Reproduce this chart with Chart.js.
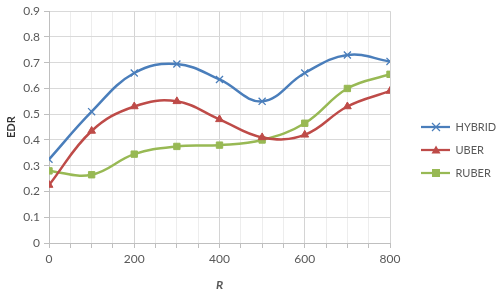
<!DOCTYPE html>
<html>
<head>
<meta charset="utf-8">
<script src="https://cdn.jsdelivr.net/npm/chart.js@4.4.1/dist/chart.umd.min.js"></script>
<style>
html,body{margin:0;padding:0;background:#fff;}
#wrap{width:498px;height:292px;position:relative;}
</style>
</head>
<body>
<div id="wrap"><canvas id="c" width="498" height="292"></canvas></div>
<script>
const categories = [0, 100, 200, 300, 400, 500, 600, 700, 800];
const hybrid = [0.325, 0.51, 0.66, 0.695, 0.635, 0.55, 0.66, 0.73, 0.705];
const uber   = [0.225, 0.435, 0.53, 0.55, 0.48, 0.41, 0.42, 0.53, 0.59];
const ruber  = [0.28, 0.265, 0.345, 0.375, 0.38, 0.40, 0.465, 0.60, 0.655];
const seriesNames = ['HYBRID', 'UBER', 'RUBER'];
const xTickLabels = [0, 200, 400, 600, 800];
const yTickLabels = [0, 0.1, 0.2, 0.3, 0.4, 0.5, 0.6, 0.7, 0.8, 0.9];

const colors = ['#4A7EBB', '#BE4B48', '#98B954'];
const styles = ['crossRot', 'triangle', 'rect'];

function legendIcon(color, style) {
  const c = document.createElement('canvas');
  c.width = 48; c.height = 12;
  const g = c.getContext('2d');
  g.strokeStyle = color; g.lineWidth = 2.25;
  g.beginPath(); g.moveTo(19, 6); g.lineTo(48, 6); g.stroke();
  g.fillStyle = color;
  const cx = 34, cy = 6;
  if (style === 'crossRot') {
    g.lineWidth = 1.2;
    g.beginPath(); g.moveTo(cx-4, cy-4); g.lineTo(cx+4, cy+4);
    g.moveTo(cx-4, cy+4); g.lineTo(cx+4, cy-4); g.stroke();
  } else if (style === 'triangle') {
    g.beginPath(); g.moveTo(cx, cy-4.5); g.lineTo(cx+4.5, cy+3.5); g.lineTo(cx-4.5, cy+3.5); g.closePath(); g.fill();
  } else {
    g.fillRect(cx-4, cy-4, 8, 8);
  }
  return c;
}
const icons = colors.map((c, i) => legendIcon(c, styles[i]));

const allSeries = [hybrid, uber, ruber];
const datasets = allSeries.map((vals, i) => ({
  label: seriesNames[i],
  data: categories.map((x, j) => ({x: x, y: vals[j]})),
  borderColor: colors[i],
  backgroundColor: colors[i],
  borderWidth: 2.5,
  tension: 0.4,
  pointStyle: styles[i],
  pointRadius: styles[i] === 'crossRot' ? 5 : 4.5,
  pointBorderWidth: styles[i] === 'crossRot' ? 1.3 : 1,
  pointBackgroundColor: colors[i],
  pointBorderColor: colors[i],
  fill: false
}));

const fontFam = 'Lato, "Open Sans", "Liberation Sans", sans-serif';

new Chart(document.getElementById('c'), {
  type: 'line',
  data: { datasets: datasets },
  options: {
    responsive: false,
    animation: false,
    devicePixelRatio: 1,
    layout: { padding: { top: 8, right: 0, left: 0, bottom: 0 } },
    plugins: {
      tooltip: { enabled: false },
      legend: {
        position: 'right',
        align: 'center',
        labels: {
          usePointStyle: true,
          pointStyleWidth: 48,
          boxHeight: 12,
          padding: 12,
          color: '#595959',
          font: { family: fontFam, size: 11 },
          generateLabels: (chart) => seriesNames.map((n, i) => ({
            text: n, fillStyle: colors[i], strokeStyle: colors[i], lineWidth: 0,
            pointStyle: icons[i], datasetIndex: i, hidden: false, fontColor: '#595959'
          }))
        }
      }
    },
    scales: {
      x: {
        type: 'linear',
        min: 0, max: 800,
        afterFit: (s) => { s.height = 49; },
        afterBuildTicks: (s) => {
          const t = [];
          for (let v = 0; v <= 800; v += 50) t.push({value: v});
          s.ticks = t;
        },
        ticks: {
          autoSkip: false, maxRotation: 0, padding: 4,
          color: '#595959', font: { family: fontFam, size: 12 },
          callback: (v) => xTickLabels.includes(v) ? String(v) : ''
        },
        grid: {
          color: (ctx) => (ctx.tick && ctx.tick.value % 200 === 0) ? '#d4d4d4' : '#ededed',
          tickColor: '#bfbfbf', tickLength: 5, lineWidth: 1
        },
        border: { color: '#bfbfbf', width: 1 },
        title: { display: true, text: 'R', color: '#595959', padding: {top: 4, bottom: 0},
                 font: { family: fontFam, size: 12, weight: 'bold', style: 'italic' } }
      },
      y: {
        min: 0, max: 0.9,
        afterFit: (s) => { s.width = 49; },
        afterBuildTicks: (s) => { s.ticks = yTickLabels.map(v => ({value: v})); },
        ticks: {
          color: '#595959', font: { family: fontFam, size: 12 }, padding: 4,
          callback: (v) => v === 0 ? '0' : Number(v).toFixed(1)
        },
        grid: { color: '#d9d9d9', tickColor: '#bfbfbf', tickLength: 5 },
        border: { color: '#bfbfbf', width: 1 },
        title: { display: true, text: 'EDR', color: '#333333', padding: {top: 5, bottom: 0},
                 font: { family: fontFam, size: 11, weight: 'bold' } }
      }
    }
  },
  plugins: [{
    id: 'legendWidth',
    afterInit(chart) {
      const lg = chart.legend;
      const orig = lg.fit;
      lg.fit = function () { orig.call(this); this.width = 108; };
    }
  }]
});
</script>
</body>
</html>
